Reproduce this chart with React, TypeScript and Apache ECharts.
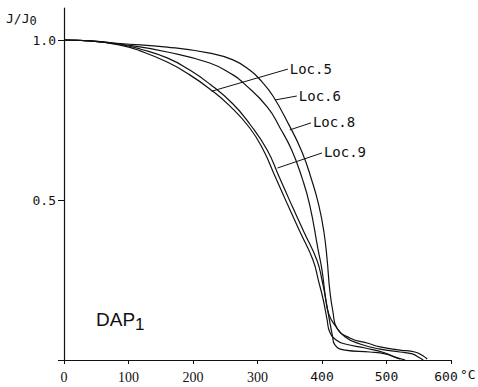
import React, { useEffect, useRef } from "react";
import * as echarts from "echarts";

// Temperature (°C) vs J/J0
const loc6: [number, number][] = [
  [0, 1.0], [40, 0.997], [87, 0.989], [160, 0.978], [226, 0.959], [262, 0.938],
  [288, 0.906], [307, 0.869], [324, 0.825], [349, 0.734], [369, 0.65], [384, 0.5625],
  [395, 0.484], [403, 0.4], [408, 0.3125], [412, 0.219], [417, 0.15], [423, 0.1],
  [443, 0.069], [470, 0.053], [490, 0.041], [521, 0.031], [544, 0.025], [557, 0.0125], [563, 0.003],
];
const loc8: [number, number][] = [
  [0, 1.0], [40, 0.997], [87, 0.9875], [160, 0.9625], [226, 0.928], [262, 0.891],
  [278, 0.866], [315, 0.791], [335, 0.725], [353, 0.656], [369, 0.569], [381, 0.484],
  [394, 0.344], [400, 0.281], [406, 0.1875], [411, 0.141], [420, 0.109], [436, 0.072],
  [459, 0.05], [490, 0.034], [521, 0.025], [540, 0.019], [552, 0.006], [557, 0.0],
];
const loc5: [number, number][] = [
  [0, 1.0], [40, 0.997], [87, 0.986], [118, 0.972], [160, 0.944], [195, 0.906],
  [226, 0.8625], [262, 0.8], [288, 0.7375], [315, 0.656], [333, 0.575], [353, 0.484],
  [372, 0.4], [392, 0.3125], [400, 0.25], [406, 0.1875], [411, 0.131], [416, 0.078],
  [420, 0.047], [436, 0.031], [474, 0.025], [498, 0.019], [513, 0.009], [521, 0.003],
];
const loc9: [number, number][] = [
  [0, 1.0], [40, 0.997], [87, 0.984], [118, 0.966], [160, 0.931], [195, 0.891],
  [226, 0.847], [257, 0.794], [288, 0.725], [309, 0.656], [327, 0.575], [347, 0.484],
  [366, 0.4], [386, 0.3125], [395, 0.244], [402, 0.1875], [408, 0.125], [412, 0.0875],
  [422, 0.0625], [436, 0.05], [467, 0.0375], [498, 0.022], [513, 0.009], [529, 0.0],
];

// Leader lines: [point on curve, label anchor]
const leaderNames = ["Loc.5", "Loc.6", "Loc.8", "Loc.9"];
const leaderFrom: [number, number][] = [[229, 0.84], [327, 0.8125], [350, 0.719], [331, 0.6]];
const leaderTo: [number, number][] = [[347, 0.909], [361, 0.825], [383, 0.741], [400, 0.647]];

const xTicks = [0, 100, 200, 300, 400, 500, 600];
const yTicks = [0.5, 1.0];

const MONO = "DejaVu Sans Mono";

export default function App() {
  const ref = useRef<HTMLDivElement>(null);
  useEffect(() => {
    if (!ref.current) return;
    const chart = echarts.init(ref.current, null, { renderer: "svg" });
    const seriesData = [loc5, loc6, loc8, loc9];
    const mkSeries = (data: [number, number][], i: number) => ({
      type: "line",
      name: leaderNames[i],
      data,
      showSymbol: false,
      smooth: 0.5,
      lineStyle: { color: "#111", width: 1.2 },
      markLine: {
        silent: true,
        symbol: ["none", "none"],
        lineStyle: { color: "#111", width: 1, type: "solid" },
        label: {
          show: true,
          position: "end",
          distance: 2,
          formatter: leaderNames[i],
          fontFamily: MONO,
          fontSize: 14,
          color: "#111",
        },
        data: [[{ coord: leaderFrom[i] }, { coord: leaderTo[i] }]],
      },
    });
    chart.setOption({
      animation: false,
      backgroundColor: "#fff",
      grid: { left: 64, right: 27, top: 8, bottom: 27, containLabel: false },
      xAxis: {
        type: "value",
        min: 0,
        max: 600,
        interval: 100,
        axisLine: { show: true, lineStyle: { color: "#111", width: 1.2 } },
        axisTick: { show: true, length: 4, lineStyle: { color: "#111" } },
        splitLine: { show: false },
        axisLabel: {
          margin: 10,
          color: "#111",
          formatter: (v: number) =>
            xTicks.includes(v)
              ? v <= 300
                ? `{s|${v}}`
                : v === 600
                ? `{e|${v}}`
                : `{m|${v}}`
              : "",
          rich: {
            s: { fontFamily: "Liberation Serif", fontSize: 14, color: "#111" },
            m: { fontFamily: MONO, fontSize: 13, color: "#111" },
            e: { fontFamily: MONO, fontSize: 13, color: "#111", padding: [0, 10, 0, 0] },
          },
        },
      },
      yAxis: {
        type: "value",
        min: 0,
        max: 1.1,
        interval: 0.5,
        axisLine: { show: true, lineStyle: { color: "#111", width: 1.2 } },
        axisTick: { show: true, length: 6, lineStyle: { color: "#111" } },
        splitLine: { show: false },
        axisLabel: {
          margin: 8,
          color: "#111",
          fontFamily: MONO,
          fontSize: 13,
          showMaxLabel: false,
          formatter: (v: number) => (yTicks.includes(v) ? v.toFixed(1) : ""),
        },
      },
      graphic: [
        {
          type: "text",
          left: 6,
          top: 12,
          style: {
            text: "{a|J/J}{b|0}",
            rich: {
              a: { fontFamily: MONO, fontSize: 13, fill: "#111" },
              b: { fontFamily: MONO, fontSize: 12, fill: "#111", padding: [5, 0, 0, 0] },
            },
          },
        },
        {
          type: "text",
          left: 460,
          top: 368,
          style: { text: "°C", fontFamily: MONO, fontSize: 13, fill: "#111" },
        },
        {
          type: "text",
          left: 96,
          top: 310,
          style: {
            text: "{a|DAP}{b|1}",
            rich: {
              a: { fontFamily: "Liberation Sans", fontSize: 19, fill: "#111" },
              b: { fontFamily: "Liberation Sans", fontSize: 17, fill: "#111", padding: [9, 0, 0, 0] },
            },
          },
        },
      ],
      series: seriesData.map(mkSeries),
    });
    return () => chart.dispose();
  }, []);
  return (
    <div
      ref={ref}
      style={{ position: "absolute", left: 0, top: 0, width: 478, height: 387 }}
    />
  );
}
